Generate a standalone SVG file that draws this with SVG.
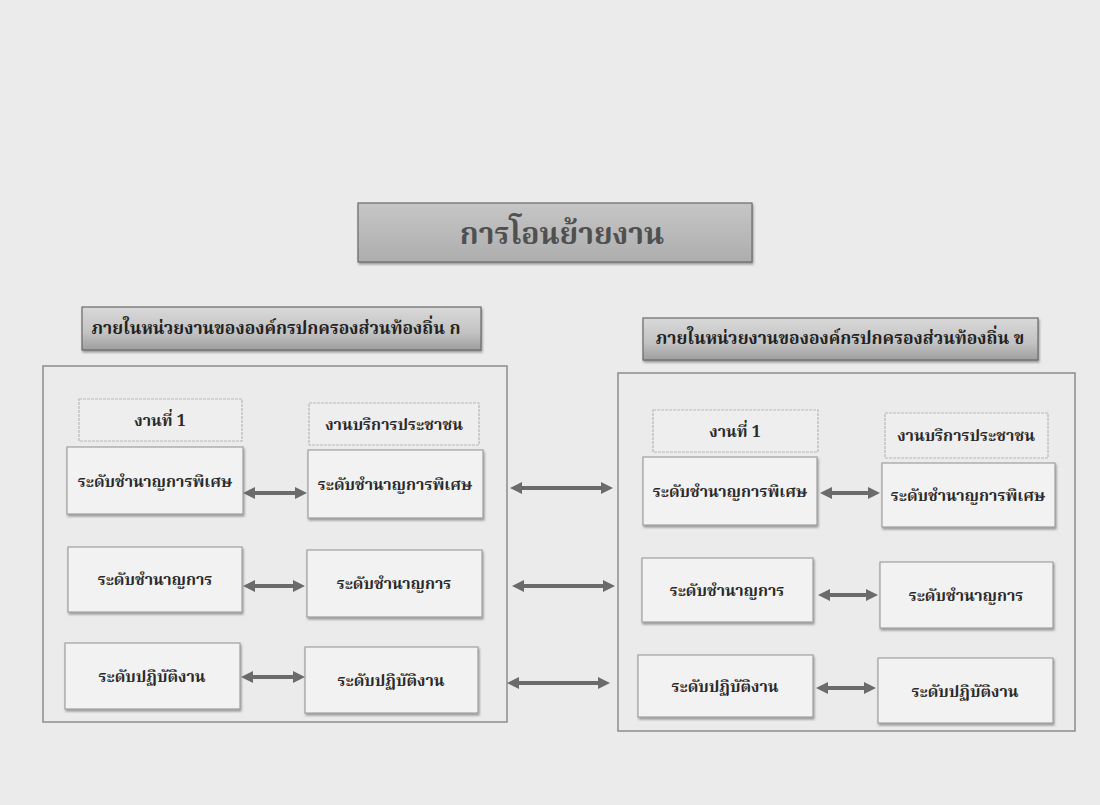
<svg xmlns="http://www.w3.org/2000/svg" width="1100" height="805" viewBox="0 0 1100 805">
  <style>
    text { font-family: "Noto Serif Thai", "Noto Sans Thai", "Noto Sans", "DejaVu Sans", sans-serif; font-weight: bold; text-anchor: middle; }
    .title { font-size: 30px; fill: #505050; }
    .group { font-size: 17.5px; fill: #222; }
    .head { font-size: 16px; fill: #2a2a2a; }
    .lbl { font-size: 16px; fill: #2a2a2a; }
    .frame { fill: none; stroke: #8c8c8c; stroke-width: 1.5; }
    .box { fill: #f2f2f2; stroke: #a0a0a0; stroke-width: 1.2; filter: url(#shadow); }
    .hbox { fill: #eeeeee; stroke: #b8b8b8; stroke-width: 1.2; stroke-dasharray: 3 1; }
    .bar { stroke: #6a6a6a; stroke-width: 1.2; filter: url(#shadow); }
    .arrow { fill: none; stroke: #6b6b6b; stroke-width: 4; marker-start: url(#head); marker-end: url(#head); }
  </style>
  <defs>
    <filter id="shadow" x="-10%" y="-10%" width="120%" height="130%">
      <feDropShadow dx="1" dy="2" stdDeviation="1" flood-color="#555" flood-opacity="0.55"/>
    </filter>
    <linearGradient id="titleFill" x1="0" y1="0" x2="0" y2="1">
      <stop offset="0" stop-color="#c6c6c6"/>
      <stop offset="1" stop-color="#adadad"/>
    </linearGradient>
    <linearGradient id="groupFill" x1="0" y1="0" x2="0" y2="1">
      <stop offset="0" stop-color="#d9d9d9"/>
      <stop offset="0.6" stop-color="#c2c2c2"/>
      <stop offset="1" stop-color="#9e9e9e"/>
    </linearGradient>
    <marker id="head" markerUnits="userSpaceOnUse" markerWidth="14" markerHeight="14" refX="0" refY="6" orient="auto-start-reverse">
      <path d="M0,0 L12,6 L0,12 z" fill="#6b6b6b"/>
    </marker>
  </defs>

  <!-- page -->
  <rect width="1100" height="805" fill="#ebebeb"/>

  <!-- title -->
  <g id="title">
    <rect class="bar" x="358" y="203" width="394" height="59" fill="url(#titleFill)"/>
    <text class="title" x="562" y="244">การโอนย้ายงาน</text>
  </g>

  <!-- organisation ก -->
  <g id="org-a-header">
    <rect class="bar" x="82" y="307" width="399" height="43" fill="url(#groupFill)"/>
    <text class="group" x="276" y="334">ภายในหน่วยงานขององค์กรปกครองส่วนท้องถิ่น ก</text>
  </g>
  <g id="org-a-frame">
    <rect class="frame" x="43" y="366" width="464" height="356"/>
  </g>
  <g id="a-head-1">
    <rect class="hbox" x="79" y="399" width="163" height="42"/>
    <text class="head" x="160" y="426">งานที่ 1</text>
  </g>
  <g id="a-head-2">
    <rect class="hbox" x="309" y="403" width="170" height="42"/>
    <text class="head" x="394" y="430">งานบริการประชาชน</text>
  </g>
  <g id="a-1-special">
    <rect class="box" x="67" y="447" width="176" height="67"/>
    <text class="lbl" x="155" y="487">ระดับชำนาญการพิเศษ</text>
  </g>
  <g id="a-2-special">
    <rect class="box" x="308" y="450" width="175" height="68"/>
    <text class="lbl" x="395" y="490">ระดับชำนาญการพิเศษ</text>
  </g>
  <g id="a-1-expert">
    <rect class="box" x="68" y="547" width="174" height="65"/>
    <text class="lbl" x="155" y="585">ระดับชำนาญการ</text>
  </g>
  <g id="a-2-expert">
    <rect class="box" x="307" y="550" width="175" height="67"/>
    <text class="lbl" x="394" y="589">ระดับชำนาญการ</text>
  </g>
  <g id="a-1-practitioner">
    <rect class="box" x="65" y="643" width="175" height="66"/>
    <text class="lbl" x="152" y="682">ระดับปฏิบัติงาน</text>
  </g>
  <g id="a-2-practitioner">
    <rect class="box" x="305" y="647" width="173" height="66"/>
    <text class="lbl" x="391" y="686">ระดับปฏิบัติงาน</text>
  </g>

  <!-- organisation ข -->
  <g id="org-b-header">
    <rect class="bar" x="643" y="318" width="395" height="42" fill="url(#groupFill)"/>
    <text class="group" x="840" y="344">ภายในหน่วยงานขององค์กรปกครองส่วนท้องถิ่น ข</text>
  </g>
  <g id="org-b-frame">
    <rect class="frame" x="618" y="373" width="457" height="358"/>
  </g>
  <g id="b-head-1">
    <rect class="hbox" x="653" y="410" width="165" height="42"/>
    <text class="head" x="735" y="437">งานที่ 1</text>
  </g>
  <g id="b-head-2">
    <rect class="hbox" x="885" y="413" width="163" height="45"/>
    <text class="head" x="966" y="441">งานบริการประชาชน</text>
  </g>
  <g id="b-1-special">
    <rect class="box" x="643" y="457" width="174" height="68"/>
    <text class="lbl" x="730" y="497">ระดับชำนาญการพิเศษ</text>
  </g>
  <g id="b-2-special">
    <rect class="box" x="882" y="463" width="173" height="64"/>
    <text class="lbl" x="968" y="501">ระดับชำนาญการพิเศษ</text>
  </g>
  <g id="b-1-expert">
    <rect class="box" x="642" y="558" width="171" height="64"/>
    <text class="lbl" x="727" y="596">ระดับชำนาญการ</text>
  </g>
  <g id="b-2-expert">
    <rect class="box" x="880" y="562" width="173" height="66"/>
    <text class="lbl" x="966" y="601">ระดับชำนาญการ</text>
  </g>
  <g id="b-1-practitioner">
    <rect class="box" x="638" y="655" width="175" height="62"/>
    <text class="lbl" x="725" y="692">ระดับปฏิบัติงาน</text>
  </g>
  <g id="b-2-practitioner">
    <rect class="box" x="878" y="658" width="175" height="65"/>
    <text class="lbl" x="965" y="697">ระดับปฏิบัติงาน</text>
  </g>

  <!-- connectors: double-headed arrows -->
  <g id="connectors">
    <path class="arrow" d="M255,493 H295"/>
    <path class="arrow" d="M255,586 H293"/>
    <path class="arrow" d="M253,677 H293"/>
    <path class="arrow" d="M522,488 H601"/>
    <path class="arrow" d="M524,586 H603"/>
    <path class="arrow" d="M519,683 H598"/>
    <path class="arrow" d="M832,493 H868"/>
    <path class="arrow" d="M830,595 H866"/>
    <path class="arrow" d="M828,688 H864"/>
  </g>
</svg>
